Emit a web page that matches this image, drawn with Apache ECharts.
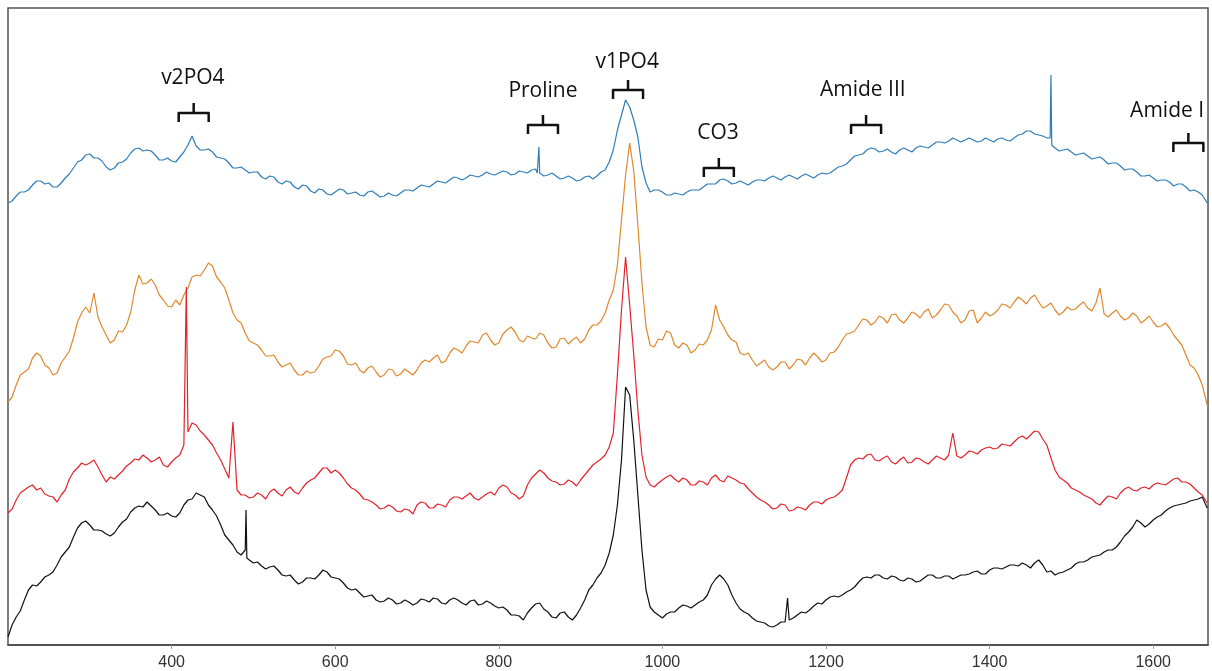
<!DOCTYPE html>
<html>
<head>
<meta charset="utf-8">
<title>Raman spectra</title>
<script src="https://cdn.jsdelivr.net/npm/echarts@6/dist/echarts.min.js"></script>
<style>
    html, body { margin: 0; padding: 0; background: #fff; }
    #main { width: 1212px; height: 671px; }
</style>
</head>
<body>
<div id="main"></div>
<script>
// raman shift grid (cm-1): values at 200,210,...,1660 and mids at 205,215,...,1655
var shiftStart = 200, shiftStep = 10;
var tickLabels = [400, 600, 800, 1000, 1200, 1400, 1600];

// intensities (a.u.)
var blue = [
    442,449,453,460,464,462,458,467,477,485,
    491,487,478,477,483,492,497,495,490,485,
    484,488,500,499,495,493,487,482,477,475,
    473,468,469,463,464,458,460,454,456,451,
    453,455,452,450,453,451,449,450,452,455,
    457,459,461,463,465,467,467,469,470,471,
    472,473,471,473,475,472,470,469,467,467,
    465,469,469,475,495,530,538,508,462,455,
    453,450,451,453,455,458,461,465,464,462,
    462,463,465,467,467,468,468,469,469,470,
    471,475,479,485,490,495,496,494,493,495,
    495,497,498,500,503,504,505,505,505,504,
    505,506,505,507,511,514,510,507,497,495,
    493,491,489,487,485,482,479,476,473,469,
    467,465,463,461,458,455,450
];
var blueMid = [
    444,453,455,464,461,458,462,471,483,490,
    487,484,475,482,486,496,494,494,485,487,
    483,493,509,495,496,488,486,477,478,472,
    473,466,468,461,463,456,459,452,455,450,
    456,451,453,449,454,448,452,449,455,454,
    460,458,464,462,468,465,470,468,473,470,
    474,470,474,472,476,469,472,466,469,464,
    468,466,473,483,515,545,525,478,453,455,
    450,452,450,455,455,461,461,466,461,464,
    460,465,464,469,465,470,466,471,467,472,
    472,478,481,489,491,497,493,496,491,497,
    493,499,497,503,502,507,503,507,503,507,
    503,507,504,510,514,511,509,570,494,496,
    490,492,486,488,481,482,475,476,469,470,
    464,465,459,461,454,453
];
var orange = [
    243,260,273,287,289,277,272,288,307,332,
    332,328,310,305,313,333,370,362,360,345,
    338,340,357,370,375,379,363,345,325,312,
    302,295,289,283,280,275,270,272,279,288,
    295,289,280,275,277,273,270,275,271,273,
    275,285,287,282,292,295,299,303,310,305,
    302,315,313,303,307,312,302,298,307,305,
    302,315,320,332,355,425,502,420,318,298,
    305,312,297,300,295,300,315,325,310,303,
    290,285,282,278,278,283,280,285,287,288,
    285,293,305,312,320,325,323,327,330,325,
    327,331,333,327,335,340,329,325,335,327,
    329,335,340,343,345,347,343,339,335,333,
    335,340,337,342,331,332,329,327,329,325,
    323,319,317,305,290,277,260
];
var orangeMid = [
    248,270,276,292,280,270,282,294,323,338,
    352,318,302,314,320,355,361,366,350,339,
    345,350,368,369,382,368,357,332,322,304,
    300,289,290,278,282,270,274,273,286,289,
    294,281,282,272,279,268,276,269,276,270,
    282,283,290,284,297,292,304,302,312,300,
    311,318,305,309,306,310,297,306,301,308,
    306,320,324,345,380,470,474,362,300,306,
    314,300,302,292,301,305,340,318,305,292,
    292,279,285,275,283,276,286,280,292,283,
    292,298,311,314,326,320,329,322,331,322,
    333,327,336,330,341,333,322,334,322,333,
    331,341,337,348,341,350,337,342,330,338,
    336,343,334,357,328,335,325,332,322,329,
    318,322,310,300,280,270
];
var red = [
    132,145,155,160,157,149,143,155,173,182,
    182,178,163,166,174,182,185,187,185,180,
    183,190,213,220,210,200,185,167,155,150,
    148,150,153,152,155,153,157,165,172,177,
    175,167,157,151,145,140,137,138,133,135,
    140,142,137,140,145,148,149,147,148,153,
    157,158,150,149,167,175,167,163,161,163,
    165,175,183,190,212,335,340,235,168,158,
    165,170,163,165,160,163,167,165,169,165,
    161,152,145,140,137,140,135,137,140,143,
    145,148,155,180,187,190,185,187,183,185,
    182,187,183,185,187,190,189,190,193,195,
    198,197,200,203,209,210,213,200,175,165,
    157,153,148,142,145,148,152,158,154,158,
    160,161,163,167,163,157,150
];
var redMid = [
    136,152,158,155,151,148,150,166,177,180,
    185,170,168,170,179,186,190,183,188,178,
    187,200,222,214,205,192,176,223,150,147,
    152,146,156,149,158,151,162,167,177,172,
    172,161,155,146,143,136,140,134,136,131,
    143,137,141,138,148,146,152,145,151,150,
    160,152,146,160,171,172,164,160,165,159,
    170,180,186,198,270,388,290,190,160,162,
    168,166,167,160,164,160,170,163,167,162,
    156,148,143,136,141,134,138,135,143,141,
    147,151,167,185,186,191,184,189,181,188,
    183,186,181,189,185,212,187,194,191,197,
    196,201,199,207,206,214,206,187,168,162,
    155,150,146,140,149,146,156,155,157,156,
    162,160,166,163,161,153
];
var black = [
    8,28,45,60,63,70,80,93,108,122,
    120,115,111,112,123,133,139,143,135,130,
    129,132,145,152,148,135,120,105,93,95,
    82,79,78,75,69,65,63,67,70,73,
    67,62,55,52,49,45,44,45,42,43,
    42,45,47,42,45,45,40,45,41,42,
    37,35,30,25,37,42,33,27,33,25,
    37,55,67,80,110,185,250,150,55,33,
    27,33,37,39,40,45,60,70,60,42,
    33,27,23,19,20,23,27,33,35,42,
    45,49,50,55,63,68,70,67,69,65,
    67,63,67,70,67,69,68,70,73,71,
    75,77,78,80,82,77,85,73,70,73,
    77,83,85,89,93,95,103,113,125,118,
    125,130,137,140,142,145,148
];
var blackMid = [
    20,34,55,59,68,73,88,98,117,124,
    115,114,109,118,126,137,138,139,130,132,
    128,140,146,150,140,129,110,100,90,85,
    83,76,79,70,70,61,67,66,75,68,
    66,57,56,48,50,43,47,41,45,40,
    46,43,46,41,47,42,44,40,44,39,
    38,30,29,32,41,36,28,32,28,30,
    45,60,72,92,140,258,205,95,38,30,
    31,33,40,37,43,50,66,66,50,36,
    31,24,22,18,23,25,30,32,39,41,
    48,48,53,58,67,67,70,66,68,64,
    66,64,70,67,69,66,70,71,74,71,
    77,76,80,79,80,82,80,74,72,75,
    81,83,88,90,95,98,109,118,122,121,
    128,134,139,141,144,146
];

// sharp spikes off the grid and the last point at the right edge: [shift, intensity]
var blueExtra = [[847,472],[849,498],[1474,507],[1476,500],[1666,442]];
var orangeExtra = [[1666,240]];
var redExtra = [[418,358],[1666,142]];
var blackExtra = [[491,135],[492,87],[1153,47],[1666,137]];

// band annotations
var bandLabels = ['v2PO4', 'Proline', 'v1PO4', 'CO3', 'Amide III', 'Amide I'];
var braceShift = [427, 854, 958, 1069, 1249, 1643];
var braceTop = [532, 520, 555, 477, 520, 502];
var labelShift = [426, 854, 957, 1068, 1245, 1617];
var labelTop = [567, 554, 583, 512, 555, 534];

function buildSeries(values, mids, extra) {
    var pts = [];
    for (var i = 0; i < values.length; i++) {
        pts.push([shiftStart + i * shiftStep, values[i]]);
    }
    for (var j = 0; j < mids.length; j++) {
        pts.push([shiftStart + shiftStep / 2 + j * shiftStep, mids[j]]);
    }
    extra.forEach(function (p) { pts.push(p); });
    pts.sort(function (a, b) { return a[0] - b[0]; });
    return pts;
}

var annotations = [];
for (var k = 0; k < bandLabels.length; k++) {
    annotations.push([braceShift[k], braceTop[k], labelShift[k], labelTop[k]]);
}

var chartDom = document.getElementById('main');
var myChart = echarts.init(chartDom);
var option;

function lineSeries(name, color, data) {
    return {
        name: name,
        type: 'line',
        data: data,
        showSymbol: false,
        symbol: 'none',
        lineStyle: { color: color, width: 1.2 },
        itemStyle: { color: color }
    };
}

option = {
    animation: false,
    backgroundColor: '#fff',
    grid: {
        left: 8,
        right: 4,
        top: 8,
        bottom: 26,
        show: true,
        borderColor: '#555',
        borderWidth: 1.5
    },
    xAxis: {
        type: 'value',
        min: 200,
        max: 1667,
        interval: 200,
        axisLine: { show: true, lineStyle: { color: '#444', width: 1.5 } },
        axisTick: { show: true, length: 4, lineStyle: { color: '#999' } },
        splitLine: { show: false },
        axisLabel: {
            showMinLabel: false,
            showMaxLabel: false,
            color: '#333',
            fontSize: 16,
            fontFamily: 'Liberation Sans',
            margin: 10,
            formatter: function (v) {
                return tickLabels.indexOf(v) >= 0 ? String(v) : '';
            }
        }
    },
    yAxis: {
        type: 'value',
        min: 0,
        max: 637,
        show: false
    },
    series: [
        lineSeries('blue', '#2f7dba', buildSeries(blue, blueMid, blueExtra)),
        lineSeries('orange', '#e0882c', buildSeries(orange, orangeMid, orangeExtra)),
        lineSeries('red', '#e3232b', buildSeries(red, redMid, redExtra)),
        lineSeries('black', '#111111', buildSeries(black, blackMid, blackExtra)),
        {
            type: 'custom',
            clip: false,
            data: annotations,
            renderItem: function (params, api) {
                var p = api.coord([api.value(0), api.value(1)]);
                var t = api.coord([api.value(2), api.value(3)]);
                var w = 15, leg = 9, stem = 10;
                return {
                    type: 'group',
                    children: [
                        {
                            type: 'polyline',
                            shape: { points: [[p[0] - w, p[1] + leg], [p[0] - w, p[1]], [p[0] + w, p[1]], [p[0] + w, p[1] + leg]] },
                            style: { stroke: '#111', lineWidth: 2.5, fill: null, lineJoin: 'round' }
                        },
                        {
                            type: 'line',
                            shape: { x1: p[0], y1: p[1], x2: p[0], y2: p[1] - stem },
                            style: { stroke: '#111', lineWidth: 2.5 }
                        },
                        {
                            type: 'text',
                            x: t[0],
                            y: t[1],
                            style: {
                                text: bandLabels[params.dataIndex],
                                fill: '#111',
                                font: '21px "Open Sans"',
                                align: 'center',
                                verticalAlign: 'middle'
                            }
                        }
                    ]
                };
            }
        }
    ]
};

option && myChart.setOption(option);
</script>
</body>
</html>
